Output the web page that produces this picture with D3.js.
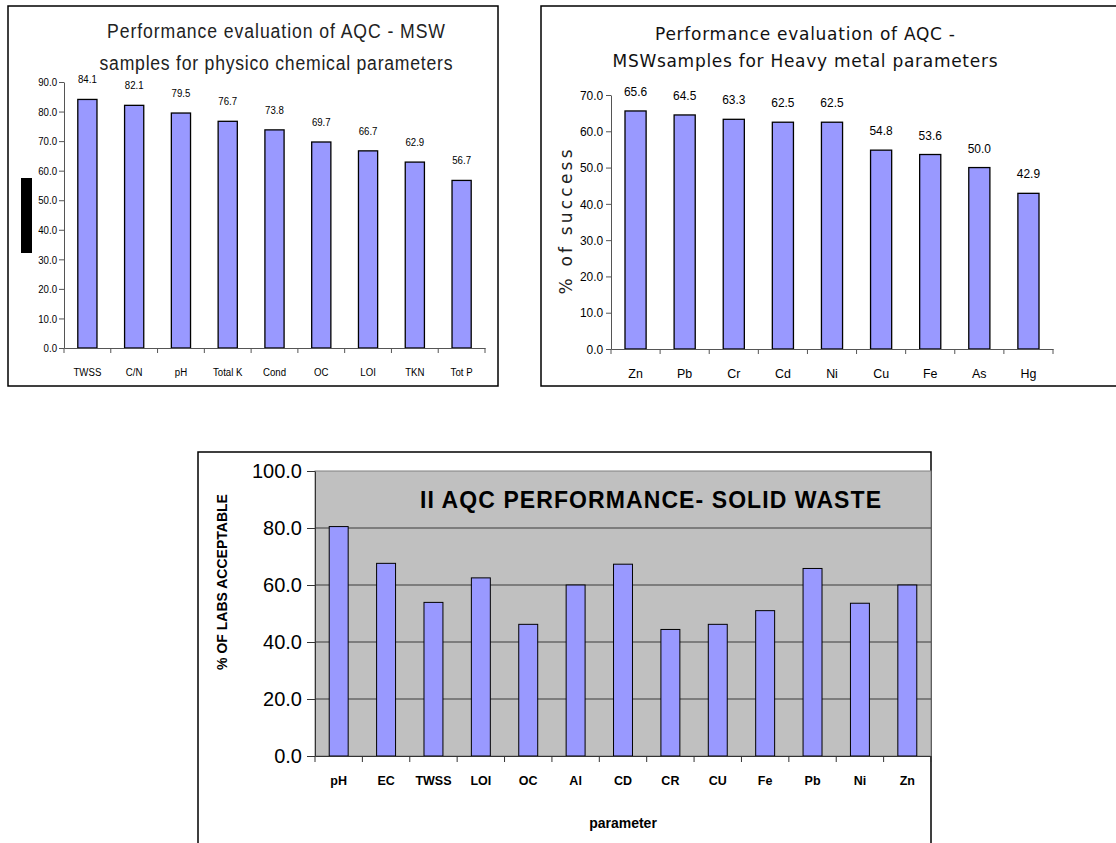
<!DOCTYPE html>
<html>
<head>
<meta charset="utf-8">
<script src="https://cdn.jsdelivr.net/npm/d3@7"></script>
<style>
  html, body { margin: 0; padding: 0; background: #fff; }
  svg { display: block; }
  .arial { font-family: "Liberation Sans", Arial, sans-serif; }
  .verd { font-family: "DejaVu Sans", Verdana, sans-serif; }
</style>
</head>
<body>
<svg id="chart" width="1116" height="843"></svg>
<script>
// ---------- DATA ----------
const physCategories = ["TWSS", "C/N", "pH", "Total K", "Cond", "OC", "LOI", "TKN", "Tot P"];
const physValues = [84.1, 82.1, 79.5, 76.7, 73.8, 69.7, 66.7, 62.9, 56.7];
const physTicks = [0, 10, 20, 30, 40, 50, 60, 70, 80, 90];
const physTitle = ["Performance evaluation of AQC - MSW", "samples for physico chemical parameters"];

const metalCategories = ["Zn", "Pb", "Cr", "Cd", "Ni", "Cu", "Fe", "As", "Hg"];
const metalValues = [65.6, 64.5, 63.3, 62.5, 62.5, 54.8, 53.6, 50.0, 42.9];
const metalTicks = [0, 10, 20, 30, 40, 50, 60, 70];
const metalTitle = ["Performance evaluation of AQC -", "MSWsamples for Heavy metal parameters"];
const metalYLabel = "% of success";

const solidCategories = ["pH", "EC", "TWSS", "LOI", "OC", "Al", "CD", "CR", "CU", "Fe", "Pb", "Ni", "Zn"];
const solidValues = [80.5, 67.6, 53.9, 62.5, 46.2, 60.0, 67.3, 44.4, 46.2, 51.0, 65.8, 53.6, 60.0];
const solidTicks = [0, 20, 40, 60, 80, 100];
const solidTitle = "II AQC PERFORMANCE- SOLID WASTE";
const solidYLabel = "% OF LABS ACCEPTABLE";
const solidXLabel = "parameter";

const BAR_FILL = "#9999FF";
const NARROW = 0.84;  // horizontal compression to mimic a narrow face
const fmt = d3.format(".1f");
const svg = d3.select("#chart");

function bandScale(cats, r0, r1, p) {
  return d3.scaleBand().domain(cats).range([r0, r1]).paddingInner(p).paddingOuter(p / 2);
}
function boundaryTicks(g, x, y0, len, color) {
  const n = x.domain().length;
  const step = (x.range()[1] - x.range()[0]) / n;
  g.selectAll("line.bt").data(d3.range(n + 1)).join("line")
    .attr("class", "bt")
    .attr("x1", i => x.range()[0] + i * step).attr("x2", i => x.range()[0] + i * step)
    .attr("y1", y0).attr("y2", y0 + len)
    .attr("stroke", color).attr("stroke-width", 1);
}

// ================= Panel 1: physico chemical =================
{
  svg.append("rect").attr("x", 8).attr("y", 6).attr("width", 490).attr("height", 380)
    .attr("fill", "#fff").attr("stroke", "#000").attr("stroke-width", 1.5);
  // black marker (rendered axis-title artifact)
  svg.append("rect").attr("x", 21).attr("y", 178).attr("width", 11).attr("height", 75).attr("fill", "#000");

  const x = bandScale(physCategories, 64, 485, 0.59);
  const y = d3.scaleLinear().domain([0, 90]).range([348, 82]);
  const g = svg.append("g");

  svg.append("g").selectAll("text").data(physTitle).join("text")
    .attr("class", "arial")
    .attr("transform", (d, i) => `translate(276,${38 + i * 32}) scale(${NARROW},1)`)
    .attr("text-anchor", "middle").attr("font-size", 21).attr("fill", "#222")
    .attr("textLength", (d, i) => (i === 0 ? 338 : 353) / NARROW).attr("lengthAdjust", "spacing")
    .text(d => d);

  g.selectAll("rect.bar").data(physCategories).join("rect")
    .attr("class", "bar")
    .attr("x", d => x(d)).attr("width", x.bandwidth())
    .attr("y", (d, i) => y(physValues[i])).attr("height", (d, i) => y(0) - y(physValues[i]))
    .attr("fill", BAR_FILL).attr("stroke", "#000").attr("stroke-width", 1.3);

  g.selectAll("text.val").data(physCategories).join("text")
    .attr("class", "val arial")
    .attr("transform", (d, i) => `translate(${x(d) + x.bandwidth() / 2},${y(physValues[i]) - 16}) scale(${NARROW},1)`)
    .attr("text-anchor", "middle").attr("font-size", 11.5).attr("fill", "#000")
    .text((d, i) => fmt(physValues[i]));

  const ya = g.append("g").attr("transform", "translate(64,0)")
    .call(d3.axisLeft(y).tickValues(physTicks).tickFormat(fmt).tickSize(5).tickSizeOuter(0).tickPadding(3.3));
  ya.selectAll("text").attr("class", "arial").attr("font-size", 11.5).attr("fill", "#000")
    .attr("transform", `scale(${NARROW},1)`);
  ya.selectAll("line, path").attr("stroke", "#555");

  const xa = g.append("g").attr("transform", "translate(0,348)")
    .call(d3.axisBottom(x).tickSize(0).tickSizeOuter(0).tickPadding(19.5));
  xa.selectAll("text").attr("class", "arial").attr("font-size", 11.5).attr("fill", "#000")
    .attr("transform", `scale(${NARROW},1)`);
  xa.select("path").attr("stroke", "#555");
  boundaryTicks(g, x, 348, 5, "#555");
}

// ================= Panel 2: heavy metals =================
{
  svg.append("rect").attr("x", 541).attr("y", 6).attr("width", 600).attr("height", 380)
    .attr("fill", "#fff").attr("stroke", "#000").attr("stroke-width", 1.5);

  const x = bandScale(metalCategories, 611, 1053, 0.57);
  const y = d3.scaleLinear().domain([0, 70]).range([349, 95]);
  const g = svg.append("g");

  svg.append("g").selectAll("text").data(metalTitle).join("text")
    .attr("class", "verd")
    .attr("x", 805).attr("y", (d, i) => 40 + i * 27)
    .attr("text-anchor", "middle").attr("font-size", 17).attr("fill", "#111")
    .attr("textLength", (d, i) => i === 0 ? 300 : 385).attr("lengthAdjust", "spacing")
    .text(d => d);

  svg.append("text").attr("class", "verd")
    .attr("transform", "translate(572,222) rotate(-90)")
    .attr("text-anchor", "middle").attr("font-size", 17).attr("fill", "#222")
    .attr("textLength", 145).attr("lengthAdjust", "spacing")
    .text(metalYLabel);

  g.selectAll("rect.bar").data(metalCategories).join("rect")
    .attr("class", "bar")
    .attr("x", d => x(d)).attr("width", x.bandwidth())
    .attr("y", (d, i) => y(metalValues[i])).attr("height", (d, i) => y(0) - y(metalValues[i]))
    .attr("fill", BAR_FILL).attr("stroke", "#000").attr("stroke-width", 1.3);

  g.selectAll("text.val").data(metalCategories).join("text")
    .attr("class", "val arial")
    .attr("transform", (d, i) => `translate(${x(d) + x.bandwidth() / 2},${y(metalValues[i]) - 15}) scale(0.92,1)`)
    .attr("text-anchor", "middle").attr("font-size", 13).attr("fill", "#000")
    .text((d, i) => fmt(metalValues[i]));

  const ya = g.append("g").attr("transform", "translate(611,0)")
    .call(d3.axisLeft(y).tickValues(metalTicks).tickFormat(fmt).tickSize(5).tickSizeOuter(0).tickPadding(3.5));
  ya.selectAll("text").attr("class", "arial").attr("font-size", 13).attr("fill", "#000")
    .attr("transform", "scale(0.92,1)");
  ya.selectAll("line, path").attr("stroke", "#555");

  const xa = g.append("g").attr("transform", "translate(0,349)")
    .call(d3.axisBottom(x).tickSize(0).tickSizeOuter(0).tickPadding(19));
  xa.selectAll("text").attr("class", "arial").attr("font-size", 13.5).attr("fill", "#000")
    .attr("transform", "scale(0.92,1)");
  xa.select("path").attr("stroke", "#555");
  boundaryTicks(g, x, 349, 5, "#555");
}

// ================= Panel 3: solid waste =================
{
  svg.append("rect").attr("x", 198).attr("y", 452).attr("width", 733).attr("height", 420)
    .attr("fill", "#fff").attr("stroke", "#000").attr("stroke-width", 1.5);

  const x = bandScale(solidCategories, 315, 931, 0.6);
  const y = d3.scaleLinear().domain([0, 100]).range([756, 471]);
  const g = svg.append("g");

  // plot area
  g.append("rect").attr("x", 315).attr("y", y(100)).attr("width", 931 - 315).attr("height", y(0) - y(100))
    .attr("fill", "#C0C0C0").attr("stroke", "#808080").attr("stroke-width", 1);

  // gridlines
  g.append("g").selectAll("line").data(solidTicks.filter(t => t > 0 && t < 100)).join("line")
    .attr("x1", 315).attr("x2", 931).attr("y1", d => y(d)).attr("y2", d => y(d))
    .attr("stroke", "#3a3a3a").attr("stroke-width", 1);

  g.append("text").attr("class", "arial")
    .attr("x", 420).attr("y", 508).attr("font-size", 23).attr("font-weight", "bold").attr("fill", "#000")
    .attr("textLength", 461).attr("lengthAdjust", "spacing")
    .text(solidTitle);

  g.selectAll("rect.bar").data(solidCategories).join("rect")
    .attr("class", "bar")
    .attr("x", d => x(d)).attr("width", x.bandwidth())
    .attr("y", (d, i) => y(solidValues[i])).attr("height", (d, i) => y(0) - y(solidValues[i]))
    .attr("fill", BAR_FILL).attr("stroke", "#000").attr("stroke-width", 1);

  const ya = g.append("g").attr("transform", "translate(315,0)")
    .call(d3.axisLeft(y).tickValues(solidTicks).tickFormat(fmt).tickSize(8).tickSizeOuter(0).tickPadding(5));
  ya.selectAll("text").attr("class", "arial").attr("font-size", 20).attr("fill", "#000");
  ya.selectAll("line, path").attr("stroke", "#333");

  const xa = g.append("g").attr("transform", "translate(0,756)")
    .call(d3.axisBottom(x).tickSize(0).tickSizeOuter(0).tickPadding(20));
  xa.selectAll("text").attr("class", "arial").attr("font-size", 12.5).attr("font-weight", "bold").attr("fill", "#000");
  xa.select("path").attr("stroke", "#333");
  boundaryTicks(g, x, 756, 6, "#333");

  svg.append("text").attr("class", "arial")
    .attr("transform", "translate(227,582) rotate(-90)")
    .attr("text-anchor", "middle").attr("font-size", 14).attr("font-weight", "bold").attr("fill", "#000")
    .text(solidYLabel);

  svg.append("text").attr("class", "arial")
    .attr("x", 623).attr("y", 828)
    .attr("text-anchor", "middle").attr("font-size", 14).attr("font-weight", "bold").attr("fill", "#000")
    .text(solidXLabel);
}
</script>
</body>
</html>
